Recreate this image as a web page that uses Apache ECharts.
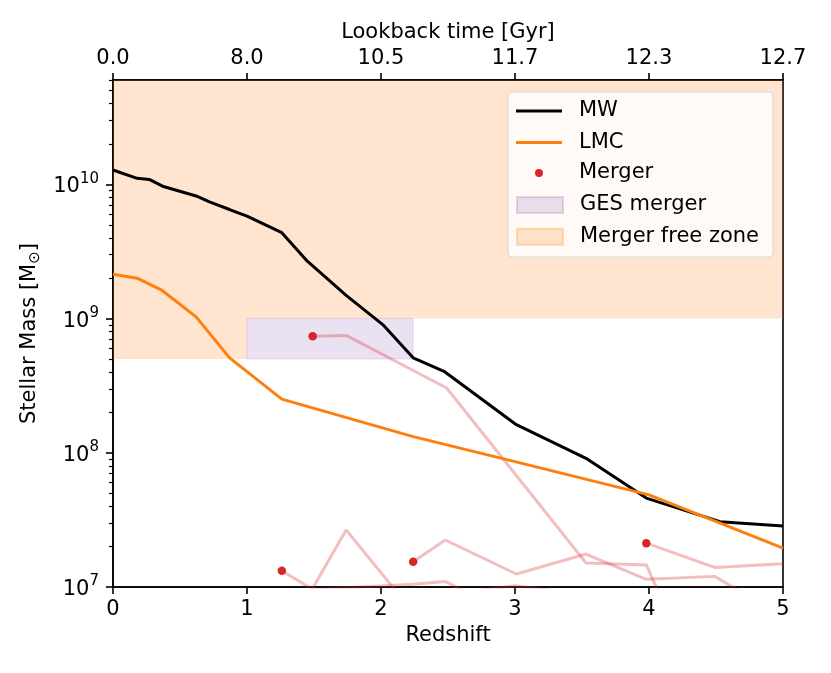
<!DOCTYPE html>
<html>
<head>
<meta charset="utf-8">
<script src="https://cdn.jsdelivr.net/npm/echarts@6/dist/echarts.min.js"></script>
<style>
  html, body { margin: 0; padding: 0; background: #fff; }
  #chart { width: 831px; height: 673px; }
</style>
</head>
<body>
<div id="chart"></div>
<script>
// axis ranges and tick labels
const redshiftTicks = [0, 1, 2, 3, 4, 5];
const lookbackLabels = ['0.0', '8.0', '10.5', '11.7', '12.3', '12.7'];
const massMajorTicks = [1e7, 1e8, 1e9, 1e10];
const massMin = 1e7;
const massMax = 6e10;

// Milky Way stellar mass history
const mwRedshift = [0, 0.18, 0.27, 0.37, 0.62, 0.72, 0.87, 1.0, 1.26, 1.45, 1.74, 2.02, 2.24, 2.47, 3.01, 3.53, 3.98, 4.53, 5.0];
const mwMass = [1.28e10, 1.11e10, 1.09e10, 9.7e9, 8.2e9, 7.4e9, 6.5e9, 5.8e9, 4.37e9, 2.68e9, 1.49e9, 8.9e8, 5.1e8, 4.05e8, 1.62e8, 9.1e7, 4.6e7, 3.07e7, 2.85e7];

// LMC stellar mass history
const lmcRedshift = [0, 0.18, 0.36, 0.62, 0.87, 1.26, 2.24, 3.0, 4.0, 5.0];
const lmcMass = [2.14e9, 2.0e9, 1.64e9, 1.03e9, 5.1e8, 2.51e8, 1.32e8, 8.6e7, 4.86e7, 1.95e7];

// merger progenitor tracks [redshift, mass]
const gesTrack = [[1.49, 7.4e8], [1.74, 7.5e8], [2.49, 3.04e8], [3.53, 1.51e7], [3.98, 1.46e7], [4.5, 1e6]];
const trackB = [[3.98, 2.12e7], [4.49, 1.4e7], [5.0, 1.49e7]];
const trackC = [[2.24, 1.54e7], [2.48, 2.24e7], [3.01, 1.25e7], [3.53, 1.76e7], [3.98, 1.14e7], [4.49, 1.2e7], [5.0, 6e6]];
const trackD = [[1.26, 1.32e7], [1.49, 9.6e6], [2.24, 1.05e7], [2.48, 1.1e7], [2.75, 8e6]];
const trackE = [[1.49, 9.8e6], [1.74, 2.66e7], [2.24, 6.5e6]];
const trackF = [[2.75, 9.5e6], [3.0, 1.02e7], [3.25, 9.5e6]];

// merger start points
const mergerRedshift = [1.49, 3.98, 2.24, 1.26];
const mergerMass = [7.4e8, 2.12e7, 1.54e7, 1.32e7];

// shaded regions [zStart, zEnd, massLow, massHigh]
const freeZone = [[0, 1, 5e8, massMax], [1, 5, 1e9, massMax]];
const gesZone = [[1, 2.24, 5e8, 1e9]];

const massMinorTicks = [];
for (let e = 7; e <= 10; e++) {
  for (let k = 2; k <= 9; k++) {
    const v = k * Math.pow(10, e);
    if (v <= massMax) massMinorTicks.push(v);
  }
}

const FONT = 'DejaVu Sans';
const pink = 'rgba(214,39,40,0.3)';
const orangeFill = 'rgba(255,127,14,0.2)';
const purpleFill = 'rgba(148,103,189,0.2)';

function zip(xs, ys) { return xs.map((x, i) => [x, ys[i]]); }

function boxRender(fill, stroke) {
  return function (params, api) {
    const p0 = api.coord([api.value(0), api.value(3)]);
    const p1 = api.coord([api.value(1), api.value(2)]);
    return {
      type: 'rect',
      shape: { x: p0[0], y: p0[1], width: p1[0] - p0[0], height: p1[1] - p0[1] },
      style: { fill: fill, stroke: stroke, lineWidth: stroke ? 1 : 0 }
    };
  };
}

function track(name, data) {
  return {
    name: name, type: 'line', data: data, z: 2,
    symbol: 'none', lineStyle: { color: pink, width: 3 }, silent: true
  };
}

const chart = echarts.init(document.getElementById('chart'));

const tickLine = { color: '#000', width: 1.6 };
const axisText = { color: '#000', fontFamily: FONT, fontSize: 21 };
const legendText = { color: '#000', fontFamily: FONT, fontSize: 21, lineHeight: 22, padding: [0, 0, 0, 12] };

const option = {
  animation: false,
  textStyle: { fontFamily: FONT },
  grid: { left: 113, right: 48, top: 80, bottom: 86, show: true, borderColor: '#000', borderWidth: 1.6, backgroundColor: 'transparent' },
  xAxis: [{
    type: 'value', min: 0, max: 5, interval: 1, position: 'bottom',
    name: 'Redshift', nameLocation: 'middle', nameGap: 37,
    nameTextStyle: axisText,
    axisLine: { lineStyle: tickLine },
    axisTick: { length: 7, lineStyle: tickLine },
    axisLabel: Object.assign({ margin: 12 }, axisText),
    splitLine: { show: false }
  }, {
    type: 'value', min: 0, max: 5, interval: 1, position: 'top',
    name: 'Lookback time [Gyr]', nameLocation: 'middle', nameGap: 37,
    nameTextStyle: axisText,
    axisLine: { lineStyle: tickLine },
    axisTick: { length: 7, lineStyle: tickLine },
    axisLabel: Object.assign({ margin: 11, formatter: v => lookbackLabels[redshiftTicks.indexOf(Math.round(v))] }, axisText),
    splitLine: { show: false }
  }],
  yAxis: [{
    type: 'log', logBase: 10, min: massMin, max: massMax, position: 'left',
    name: 'Stellar Mass [M{sub|⊙}]', nameLocation: 'middle', nameGap: 68, nameRotate: 90,
    nameTextStyle: Object.assign({ rich: { sub: { fontFamily: FONT, fontSize: 15, color: '#000', padding: [10, 0, 0, 0] } } }, axisText),
    axisLine: { lineStyle: tickLine },
    axisTick: { length: 7, lineStyle: tickLine, customValues: massMajorTicks },
    axisLabel: {
      margin: 14, customValues: massMajorTicks,
      formatter: v => '{b|10}{s|' + Math.round(Math.log10(v)) + '}',
      rich: {
        b: { fontFamily: FONT, fontSize: 21, color: '#000', lineHeight: 26, verticalAlign: 'bottom' },
        s: { fontFamily: FONT, fontSize: 15, color: '#000', verticalAlign: 'top', lineHeight: 15 }
      }
    },
    splitLine: { show: false }
  }, {
    type: 'log', logBase: 10, min: massMin, max: massMax, position: 'left',
    axisLine: { show: false },
    axisTick: { length: 4, lineStyle: { color: '#000', width: 1.2 }, customValues: massMinorTicks },
    axisLabel: { show: false },
    splitLine: { show: false }
  }],
  graphic: [{
    type: 'rect', z: 3,
    shape: { x: 508, y: 92, width: 265, height: 165, r: 4 },
    style: { fill: 'rgba(255,255,255,0.8)', stroke: '#d6d6d6', lineWidth: 1 }
  }],
  legend: [{
    data: [{ name: 'MW', icon: 'rect' }, { name: 'LMC', icon: 'rect' }],
    orient: 'vertical', left: 516, top: 100, padding: 0,
    itemWidth: 46, itemHeight: 3, itemGap: 9.5, selectedMode: false,
    textStyle: legendText
  }, {
    data: [{ name: 'Merger', icon: 'circle' }], orient: 'vertical', left: 535, top: 162, padding: 0,
    itemWidth: 8, itemHeight: 8, selectedMode: false,
    textStyle: Object.assign({}, legendText, { padding: [0, 0, 0, 31] })
  }, {
    data: [{ name: 'GES merger', icon: 'rect' }, { name: 'Merger free zone', icon: 'rect' }],
    orient: 'vertical', left: 516, top: 194, padding: 0,
    itemWidth: 46, itemHeight: 16, itemGap: 9.7, selectedMode: false,
    textStyle: legendText
  }],
  series: [
    {
      name: 'Merger free zone', type: 'custom', z: 1, silent: true,
      renderItem: boxRender(orangeFill, null),
      itemStyle: { color: orangeFill, borderColor: 'rgba(255,127,14,0.25)', borderWidth: 1 },
      encode: { x: [0, 1], y: [2, 3] },
      data: freeZone
    },
    {
      name: 'GES merger', type: 'custom', z: 1, silent: true,
      renderItem: boxRender(purpleFill, 'rgba(148,103,189,0.2)'),
      itemStyle: { color: purpleFill, borderColor: 'rgba(148,103,189,0.25)', borderWidth: 1 },
      encode: { x: [0, 1], y: [2, 3] },
      data: gesZone
    },
    track('track GES', gesTrack),
    track('track B', trackB),
    track('track C', trackC),
    track('track D', trackD),
    track('track E', trackE),
    track('track F', trackF),
    {
      name: 'MW', type: 'line', z: 3, symbol: 'none',
      lineStyle: { color: '#000', width: 3 }, itemStyle: { color: '#000' },
      data: zip(mwRedshift, mwMass)
    },
    {
      name: 'LMC', type: 'line', z: 3, symbol: 'none',
      lineStyle: { color: '#ff7f0e', width: 3 }, itemStyle: { color: '#ff7f0e' },
      data: zip(lmcRedshift, lmcMass)
    },
    {
      name: 'Merger', type: 'scatter', z: 4, symbolSize: 8.5,
      itemStyle: { color: '#d62728', opacity: 1 },
      data: zip(mergerRedshift, mergerMass)
    }
  ]
};

chart.setOption(option);
</script>
</body>
</html>
